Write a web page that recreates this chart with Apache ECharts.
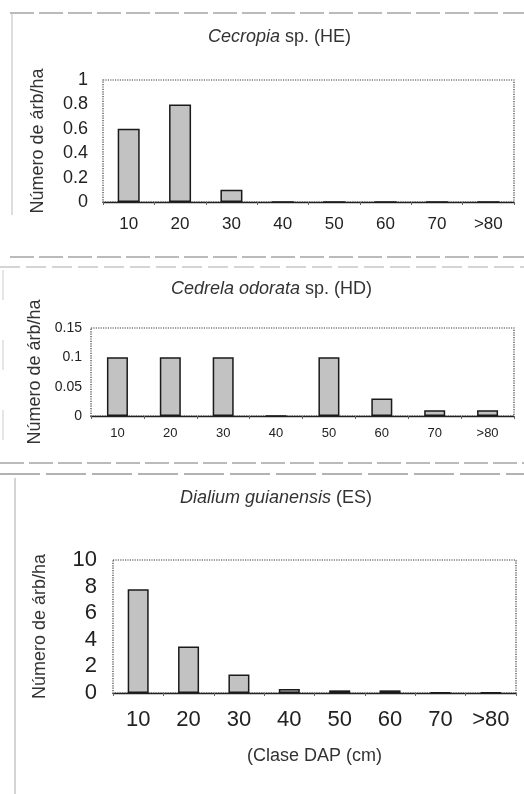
<!DOCTYPE html>
<html>
<head>
<meta charset="utf-8">
<script src="https://cdn.jsdelivr.net/npm/echarts@6/dist/echarts.min.js"></script>
<style>
html,body{margin:0;padding:0;background:#fff;}
#c{width:524px;height:794px;}
</style>
</head>
<body>
<div id="c"></div>
<script>
var categories = ['10','20','30','40','50','60','70','>80'];
var cecropiaValues = [0.6, 0.8, 0.1, 0, 0, 0, 0, 0];
var cedrelaValues = [0.1, 0.1, 0.1, 0, 0.1, 0.03, 0.01, 0.01];
var dialiumValues = [7.8, 3.5, 1.4, 0.3, 0.2, 0.2, 0.05, 0.05];
var yTicks1 = [0, 0.2, 0.4, 0.6, 0.8, 1];
var yTicks2 = [0, 0.05, 0.1, 0.15];
var yTicks3 = [0, 2, 4, 6, 8, 10];
var yName = 'Número de árb/ha';
var xName3 = '(Clase DAP (cm)';

var FONT = '"Liberation Sans", Arial, sans-serif';
var chart = echarts.init(document.getElementById('c'), null, {renderer: 'canvas'});

var grids = [
  {left: 103, right: 10, top: 80, height: 122},
  {left: 91, right: 10, top: 328, height: 88},
  {left: 113, right: 8, top: 560, height: 133}
];
grids.forEach(function (g) {
  g.show = true;
  g.borderColor = '#3a3a3a';
  g.borderWidth = 1.2;
  g.borderType = 'dotted';
  g.backgroundColor = 'transparent';
});

function xAxis(idx, fontSize, margin) {
  return {
    type: 'category', gridIndex: idx, data: categories,
    axisLine: {show: true, lineStyle: {color: '#222', width: 1.4}},
    axisTick: {show: true, length: 3, lineStyle: {color: '#666'}},
    axisLabel: {fontSize: fontSize, color: '#222', margin: margin, fontFamily: FONT, interval: 0}
  };
}
function yAxis(idx, ticks, interval, fontSize, margin, nameGap, nameSize) {
  return {
    type: 'value', gridIndex: idx, min: ticks[0], max: ticks[ticks.length - 1], interval: interval,
    axisLine: {show: false},
    axisTick: {show: false},
    splitLine: {show: false},
    axisLabel: {fontSize: fontSize, color: '#222', margin: margin, fontFamily: FONT},
    name: yName, nameLocation: 'middle', nameGap: nameGap,
    nameTextStyle: {fontSize: nameSize, color: '#333', fontFamily: FONT}
  };
}

var xA = [xAxis(0, 17, 14), xAxis(1, 13, 11), xAxis(2, 22, 16)];
xA[2].name = xName3;
xA[2].nameLocation = 'middle';
xA[2].nameGap = 54;
xA[2].nameTextStyle = {fontSize: 18, color: '#333', fontFamily: FONT};

var yA = [
  yAxis(0, yTicks1, 0.2, 18, 15, 56, 18),
  yAxis(1, yTicks2, 0.05, 14, 9, 44, 18),
  yAxis(2, yTicks3, 2, 22, 16, 64, 18)
];

function barSeries(idx, data, width) {
  return {
    type: 'bar', xAxisIndex: idx, yAxisIndex: idx, data: data, barWidth: width,
    itemStyle: {color: '#c2c2c2', borderColor: '#1a1a1a', borderWidth: 1.5},
    silent: true, animation: false
  };
}

function titleItem(italic, rest, left, top) {
  return {
    text: '{i|' + italic + '}' + rest,
    left: left, top: top,
    textStyle: {
      fontSize: 18, fontWeight: 'normal', color: '#333', fontFamily: FONT,
      rich: {i: {fontSize: 18, fontStyle: 'italic', color: '#333', fontFamily: FONT}}
    }
  };
}

var frameStyle = {stroke: '#777', lineWidth: 1, lineDash: [24, 5]};

var option = {
  backgroundColor: '#fff',
  animation: false,
  title: [
    titleItem('Cecropia', ' sp. (HE)', 203, 23),
    titleItem('Cedrela odorata', ' sp. (HD)', 166, 275),
    titleItem('Dialium guianensis', ' (ES)', 175, 484)
  ],
  grid: grids,
  xAxis: xA,
  yAxis: yA,
  series: [
    barSeries(0, cecropiaValues, 22),
    barSeries(1, cedrelaValues, 21),
    barSeries(2, dialiumValues, 21)
  ],
  graphic: [
    {type: 'line', shape: {x1: 10, y1: 13, x2: 524, y2: 13}, style: frameStyle, silent: true},
    {type: 'line', shape: {x1: 12, y1: 13, x2: 12, y2: 215}, style: {stroke: '#bbb', lineWidth: 1}, silent: true},
    {type: 'line', shape: {x1: 10, y1: 257, x2: 524, y2: 257}, style: frameStyle, silent: true},
    {type: 'line', shape: {x1: 0, y1: 267, x2: 524, y2: 267}, style: {stroke: '#aaa', lineWidth: 1, lineDash: [20, 6]}, silent: true},
    {type: 'line', shape: {x1: 3, y1: 270, x2: 3, y2: 470}, style: {stroke: '#ccc', lineWidth: 1, lineDash: [30, 40]}, silent: true},
    {type: 'line', shape: {x1: 0, y1: 463, x2: 524, y2: 463}, style: frameStyle, silent: true},
    {type: 'line', shape: {x1: 0, y1: 474, x2: 524, y2: 474}, style: {stroke: '#666', lineWidth: 1, lineDash: [40, 6]}, silent: true},
    {type: 'line', shape: {x1: 15, y1: 478, x2: 15, y2: 794}, style: {stroke: '#aaa', lineWidth: 1}, silent: true}
  ]
};
chart.setOption(option);
</script>
</body>
</html>
